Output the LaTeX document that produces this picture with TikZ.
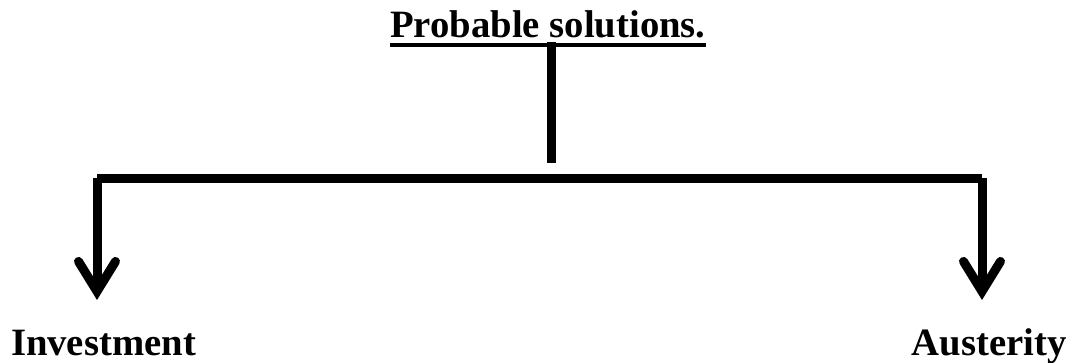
\documentclass[tikz,border=0pt]{standalone}
\usepackage{fontspec}
\setmainfont{Liberation Serif}
\usetikzlibrary{arrows.meta}

\newcommand*{\barY}{178}
\newcommand*{\tipY}{300}

\begin{document}
\begin{tikzpicture}
[
	x=1pt,y=-1pt,
	heading/.style={font=\fontsize{38.7}{40}\selectfont\bfseries,inner sep=0pt,anchor=base},
	choice/.style={font=\fontsize{38.7}{40}\selectfont\bfseries,inner sep=0pt,anchor=base},
	thickline/.style={line width=9pt},
	branch/.style={line width=9pt,-{Straight Barb[length=30pt,width=37pt,line cap=round]}}
]
	\useasboundingbox (0,0) rectangle (1072,362);

	% title
	\node[heading] (title) at (548,37) {Probable solutions.};
	\draw[line width=4pt] ([yshift=-8pt]title.base west) -- ([yshift=-8pt]title.base east);

	% stem and bar
	\coordinate (stemtop) at (551,42);
	\coordinate (stembot) at (551,163);
	\draw[thickline] (stemtop) -- (stembot);

	\coordinate (barL) at (97,\barY);
	\coordinate (barR) at (982,\barY);
	\draw[thickline] (barL) -- (barR);

	% the two choices
	\node[choice] (invest) at (103.5,355) {Investment};
	\node[choice] (auster) at (989,355) {Austerity};

	\coordinate (tipL) at (97,\tipY);
	\coordinate (tipR) at (982,\tipY);
	\draw[branch] (barL) -- (tipL);
	\draw[branch] (barR) -- (tipR);

\end{tikzpicture}
\end{document}
